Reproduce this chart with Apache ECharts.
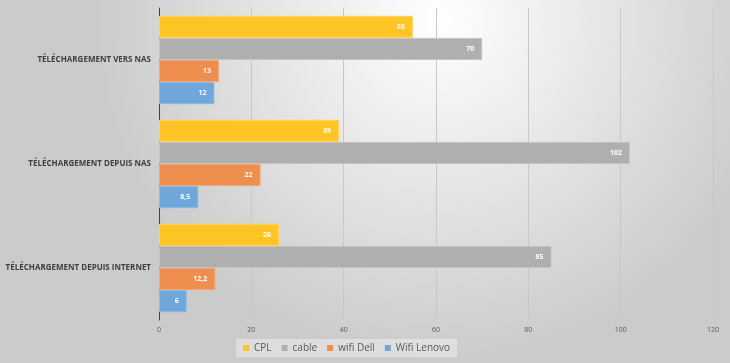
<!DOCTYPE html>
<html><head><meta charset="utf-8">
<script src="https://cdn.jsdelivr.net/npm/echarts@6/dist/echarts.min.js"></script>
<style>html,body{margin:0;padding:0;}#c{width:730px;height:363px;}</style>
</head><body><div id="c"></div>
<script>
var categories = ['Téléchargement depuis internet', 'Téléchargement depuis NAS', 'Téléchargement vers NAS'];
var cpl = [26, 39, 55];
var cable = [85, 102, 70];
var wifiDell = [12.2, 22, 13];
var wifiLenovo = [6, 8.5, 12];
var seriesNames = ['CPL', 'cable', 'wifi Dell', 'Wifi Lenovo'];
var xTicks = [0, 20, 40, 60, 80, 100, 120];

var colors = ['#FFC425', '#AFAFAF', '#EE8E4F', '#6FA7DA'];
var borders = ['#FFD35A', '#C4C4C4', '#F3A678', '#8DB9E2'];
var data = [cpl, cable, wifiDell, wifiLenovo];
var chart = echarts.init(document.getElementById('c'));
var series = [];
for (var i = 0; i < seriesNames.length; i++) {
  series.push({
    name: seriesNames[i], type: 'bar', data: data[i],
    barGap: '0%', barCategoryGap: '15%',
    itemStyle: {color: colors[i], borderColor: borders[i], borderWidth: 1},
    label: {show: true, position: 'insideRight', color: '#ffffff', fontSize: 7, fontWeight: 'bold',
      fontFamily: 'Open Sans', offset: [-3, 0],
      formatter: function (p) { return String(p.value).replace('.', ','); }}
  });
}
chart.setOption({
  backgroundColor: {type: 'radial', x: 0.6, y: 0.05, r: 0.95,
    colorStops: [{offset: 0, color: '#ffffff'}, {offset: 1, color: '#cbcbcb'}]},
  animation: false,
  grid: {left: 159, right: 17, top: 8, bottom: 43, containLabel: false, outerBoundsMode: 'none'},
  legend: {
    data: seriesNames, bottom: 6, left: 236, icon: 'rect', itemWidth: 6, itemHeight: 6, itemGap: 10,
    itemStyle: {borderWidth: 0},
    backgroundColor: 'rgba(255,255,255,0.35)', padding: [4, 7],
    textStyle: {color: '#595959', fontSize: 10, fontFamily: 'Open Sans'}
  },
  xAxis: {type: 'value', min: 0, max: 120, interval: 20,
    axisLine: {show: false}, axisTick: {show: false},
    splitLine: {lineStyle: {color: '#c8c8c8', width: 1}},
    axisLabel: {color: '#595959', fontSize: 7, fontFamily: 'Open Sans', margin: 6}},
  yAxis: {type: 'category', data: categories,
    axisLine: {lineStyle: {color: '#404040', width: 1}}, axisTick: {show: false},
    axisLabel: {color: '#404040', fontSize: 8, fontWeight: 'bold', fontFamily: 'Open Sans', margin: 8,
      formatter: function (v) { return v.toUpperCase(); }}},
  series: series
});
</script></body></html>
